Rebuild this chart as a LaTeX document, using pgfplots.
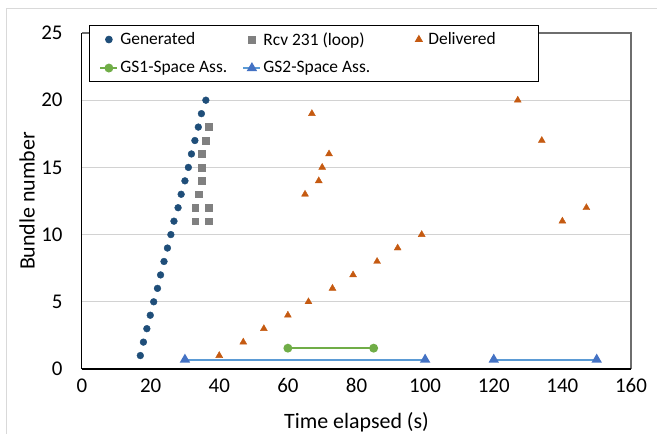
\documentclass[border=0pt]{standalone}
\usepackage{pgfplots}
\pgfplotsset{compat=1.18}
\usepackage{fontspec}
\setmainfont{Carlito}

\definecolor{genblue}{RGB}{31,78,121}
\definecolor{rcvgray}{RGB}{128,128,128}
\definecolor{delorange}{RGB}{197,90,17}
\definecolor{gsgreen}{RGB}{112,173,71}
\definecolor{gsblue}{RGB}{68,114,196}
\definecolor{gsline}{RGB}{91,155,213}
\definecolor{framegray}{RGB}{110,110,110}

\begin{document}
\begin{tikzpicture}
\useasboundingbox (-82bp,-65bp) rectangle (575bp,369bp);
\draw[gray!30, line width=1bp] (-75bp,-80bp) -- (-75bp,360bp) -- (600bp,360bp);
\begin{axis}[
  at={(0,0)}, anchor=south west,
  scale only axis, width=549bp, height=336bp,
  xmin=0, xmax=160, ymin=0, ymax=25,
  xtick={0,20,...,160}, ytick={0,5,...,25},
  major tick length=0pt,
  ymajorgrids, grid style={gray!35, line width=0.9bp},
  axis line style={draw=none},
  clip=false,
  /pgf/number format/assume math mode=true,
  tick label style={font=\fontsize{21}{24}\selectfont},
  xticklabel style={anchor=north, yshift=-6bp},
  yticklabel style={anchor=east, xshift=-16bp},
  xlabel={Time elapsed (s)},
  ylabel={Bundle number},
  label style={font=\fontsize{22}{26}\selectfont},
  xlabel style={at={(axis description cs:0.5,-0.158)}, anchor=center},
  ylabel style={at={(axis description cs:-0.1,0.5)}, anchor=center, rotate=0},
  legend columns=3,
  legend style={at={(axis description cs:0.01275,1.0238)}, anchor=north west,
    draw=black, line width=0.8bp, fill=white,
    font=\fontsize{17.5}{20}\selectfont,
    inner xsep=10bp, inner ysep=5bp,
    nodes={inner sep=2bp}, column sep=0pt, row sep=11bp},
  legend cell align=left,
]
\draw[black, line width=1bp] (rel axis cs:0,0) -- (rel axis cs:0,1);
\draw[framegray, line width=2bp] (rel axis cs:0,1) -- (rel axis cs:1,1) -- (rel axis cs:1,0);
\draw[black, line width=2bp] (rel axis cs:0,0) -- (rel axis cs:1,0);

\addplot[only marks, mark=*, mark size=3.4bp, color=genblue] coordinates {
(17,1) (17.9,2) (18.9,3) (19.9,4) (20.9,5) (22,6) (22.9,7) (23.9,8) (24.9,9) (25.9,10)
(26.8,11) (28,12) (28.9,13) (30,14) (31,15) (31.9,16) (32.9,17) (33.9,18) (34.8,19) (36.1,20)
};
\addlegendentry{\makebox[120bp][l]{Generated}}

\addplot[only marks, mark=square*, mark size=3.4bp, color=rcvgray] coordinates {
(33,11) (36.9,11) (33,12) (36.9,12) (34,13) (35,14) (35,15) (35,16) (36,17) (36.9,18)
};
\addlegendentry{\makebox[150bp][l]{Rcv 231 (loop)}}

\addplot[only marks, mark=triangle*, mark size=4bp, color=delorange] coordinates {
(40,1) (47,2) (53,3) (60,4) (66,5) (73,6) (79,7) (86,8) (92,9) (99,10)
(140,11) (147,12) (65,13) (69,14) (70,15) (72,16) (134,17) (67,19) (127,20)
};
\addlegendentry{\hspace*{4bp}\makebox[98bp][l]{Delivered}}

\addplot[line width=2bp, color=gsgreen, mark=*, mark size=3.4bp] coordinates {
(60,1.55) (85,1.55)
};
\addlegendentry{\makebox[120bp][l]{GS1-Space Ass.}}

\addplot[line width=2bp, color=gsline, mark=triangle*, mark size=4bp,
  mark options={color=gsblue}, unbounded coords=jump] coordinates {
(30,0.7) (100,0.7) (110,nan) (120,0.7) (150,0.7)
};
\addlegendentry{\makebox[150bp][l]{GS2-Space Ass.}}
\end{axis}
\end{tikzpicture}
\end{document}
